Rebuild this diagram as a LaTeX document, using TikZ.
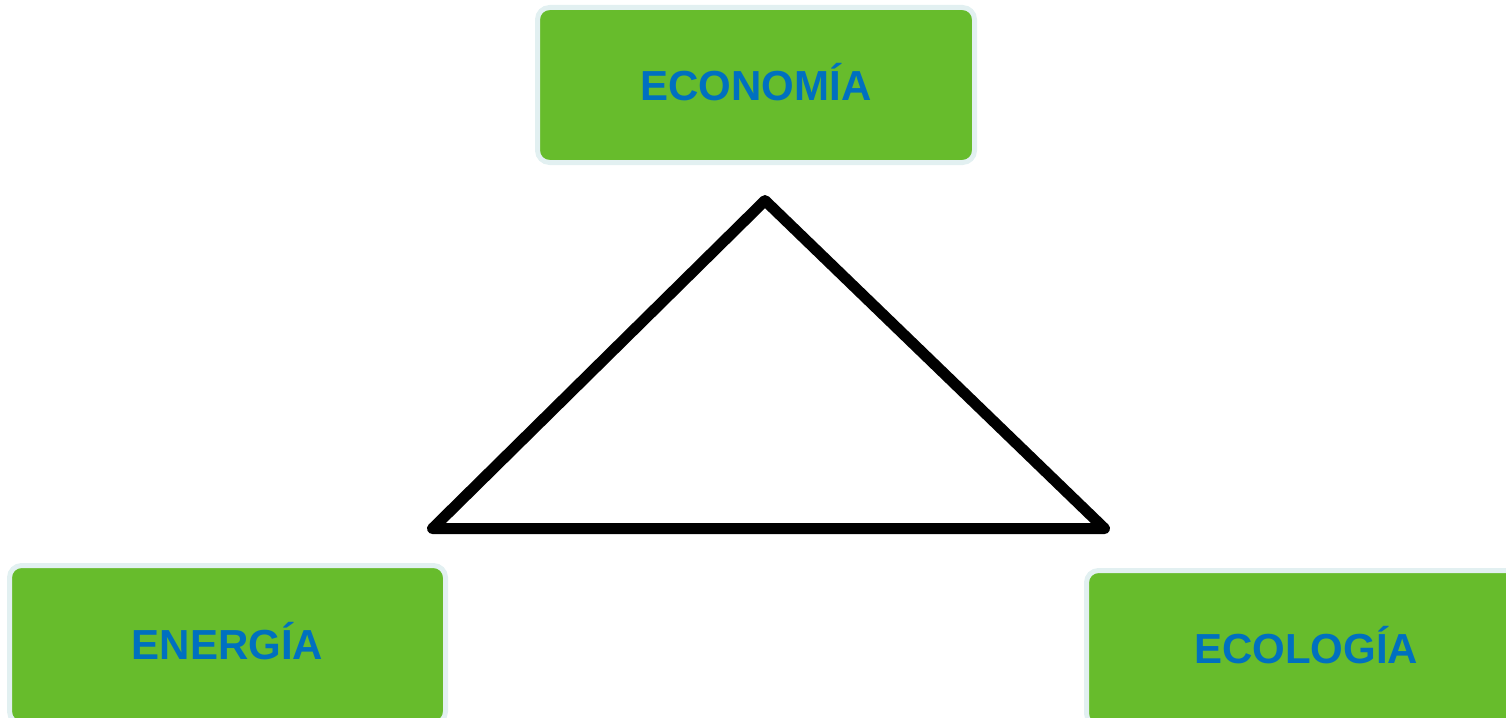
\documentclass[tikz,border=0pt]{standalone}
\usepackage{fontspec}
\setmainfont{Liberation Sans}
\definecolor{boxgreen}{RGB}{103,188,44}
\definecolor{boxrim}{RGB}{226,240,241}
\definecolor{labelblue}{RGB}{0,112,192}
\begin{document}
\begin{tikzpicture}[x=1pt,y=-1pt,
  topic/.style={rectangle, rounded corners=12pt, fill=boxgreen, draw=boxrim,
    line width=5pt, inner sep=0pt,
    font=\fontsize{42}{42}\selectfont\bfseries, text=labelblue,
    text height=30pt, text depth=0pt},
  edge/.style={line width=11pt, line join=round, line cap=round}]
  \useasboundingbox (0,0) rectangle (1506,717);
  \clip (0,0) rectangle (1506,717);
  % three topic boxes
  \node[topic, minimum width=437pt, minimum height=155pt] (eco) at (756,85) {ECONOMÍA};
  \node[topic, minimum width=436pt, minimum height=158pt] (ene) at (227.5,644.5) {ENERGÍA};
  \node[topic, minimum width=439pt, minimum height=155pt] (ecl) at (1306,648) {ECOLOGÍA};
  % central triangle
  \coordinate (top) at (765,200.5);
  \coordinate (left) at (432.5,528.5);
  \coordinate (right) at (1104.5,528.5);
  \draw[edge] (top) -- (right) -- (left) -- cycle;
\end{tikzpicture}
\end{document}
